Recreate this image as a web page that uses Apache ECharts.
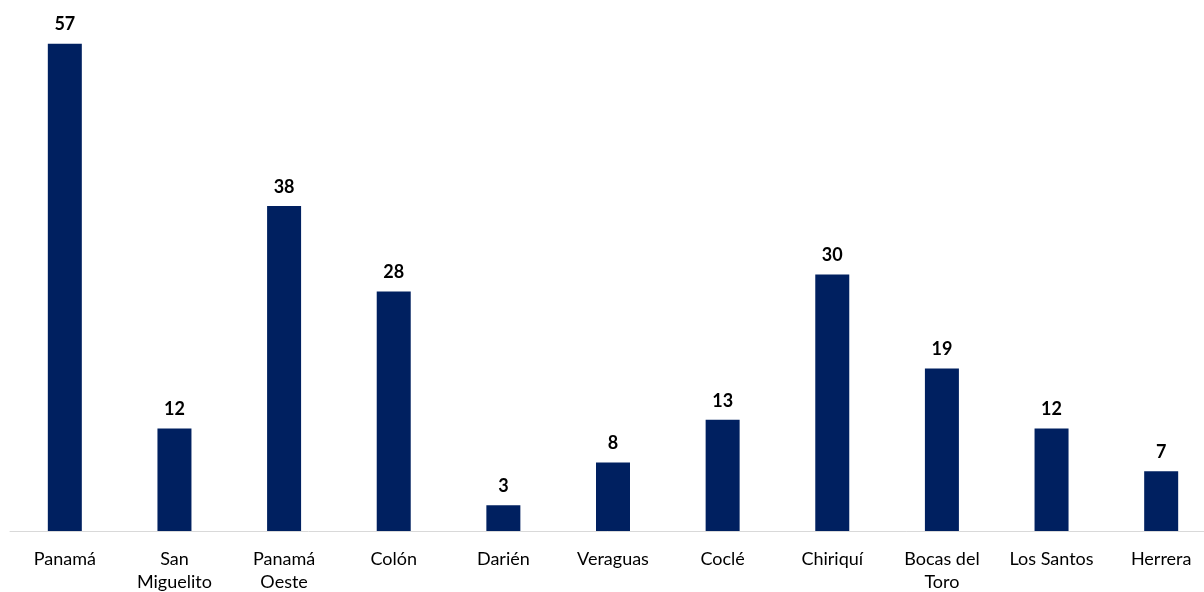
<!DOCTYPE html>
<html>
<head>
<meta charset="utf-8">
<script src="https://cdn.jsdelivr.net/npm/echarts@6/dist/echarts.min.js"></script>
<style>html,body{margin:0;padding:0;background:#fff;}#c{width:1204px;height:592px;}</style>
</head>
<body>
<div id="c"></div>
<script>
var categories = ['Panamá', 'San\nMiguelito', 'Panamá\nOeste', 'Colón', 'Darién', 'Veraguas', 'Coclé', 'Chiriquí', 'Bocas del\nToro', 'Los Santos', 'Herrera'];
var values = [57, 12, 38, 28, 3, 8, 13, 30, 19, 12, 7];

var chart = echarts.init(document.getElementById('c'));
chart.setOption({
  animation: false,
  grid: { left: 10, width: 1206, top: 18, height: 513, outerBoundsMode: 'none', containLabel: false },
  xAxis: {
    type: 'category',
    data: categories,
    axisLine: { lineStyle: { color: '#d9d9d9', width: 1 } },
    axisTick: { show: false },
    axisLabel: { color: '#000', fontSize: 18, fontFamily: 'Lato', margin: 17, lineHeight: 23, interval: 0 }
  },
  yAxis: {
    type: 'value', min: 0, max: 60,
    show: false,
    splitLine: { show: false }
  },
  series: [{
    type: 'bar',
    data: values,
    barWidth: 34,
    itemStyle: { color: '#002060' },
    label: { show: true, position: 'top', distance: 10, color: '#000', fontWeight: 'bold', fontSize: 18, fontFamily: 'Lato' }
  }]
});
</script>
</body>
</html>
